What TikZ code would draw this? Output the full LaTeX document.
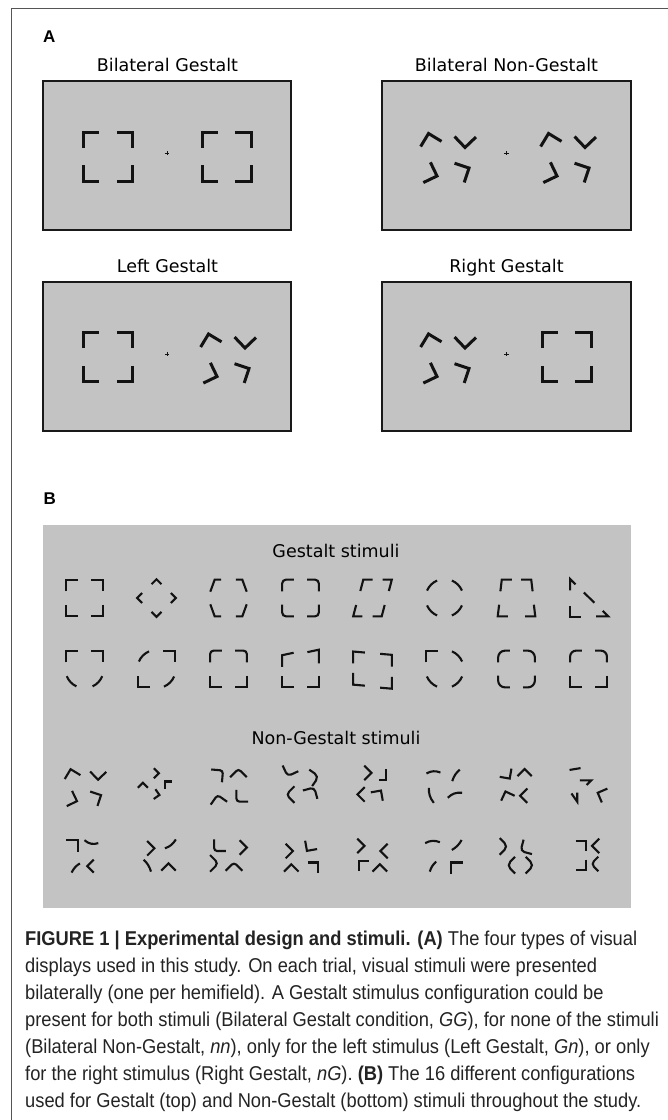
\documentclass[tikz,border=0pt]{standalone}
\usepackage{fontspec}
\setmainfont{Liberation Sans}
\newfontfamily\titlefont{DejaVu Sans}
\newfontfamily\capfont[FakeStretch=0.915]{Liberation Sans}
\definecolor{panelgray}{RGB}{195,195,195}
\definecolor{stimink}{RGB}{18,18,18}
\definecolor{framegray}{RGB}{85,85,85}
\definecolor{captext}{RGB}{35,35,35}
\def\armlen{0.64pt}
\newcommand\stimC[3]{\pgfmathsetmacro\angA{#3+135}\pgfmathsetmacro\angB{#3+225}\draw (#1,#2) ++(\angA:\armlen) -- (#1,#2) -- ++(\angB:\armlen);}
\newcommand\stimR[4]{\pgfmathsetmacro\angA{#3+135}\pgfmathsetmacro\angB{#3+225}\draw[rounded corners=#4] (#1,#2) ++(\angA:\armlen) -- (#1,#2) -- ++(\angB:\armlen);}
\newcommand\stimG[6]{\draw (#1,#2) ++(#3:#4) -- (#1,#2) -- ++(#5:#6);}
\newcommand\stimArc[3]{\draw (0,0) ++(#1:#3) arc[start angle=#1,end angle=#2,radius=#3];}
\newcommand\stimSquare{\stimC{-1}{-1}{135}\stimC{1}{-1}{45}\stimC{-1}{1}{225}\stimC{1}{1}{315}}
\newcommand\stimNonG{{\def\armlen{0.62pt}\stimC{-0.755}{-0.939}{104}\stimC{0.735}{-0.367}{268.7}\stimC{-0.408}{0.796}{340.7}\stimC{0.898}{0.469}{26.8}}}
\newcommand\atA[3]{\begin{scope}[panelAstim,shift={(#1,#2)},scale=24.5]#3\end{scope}}
\newcommand\atB[3]{\begin{scope}[panelBstim,shift={(#1,#2)},scale=18.4]#3\end{scope}}
\tikzset{
  panelAstim/.style={color=stimink,line width=3pt,line cap=butt,line join=miter},
  panelBstim/.style={color=stimink,line width=2.1pt,line cap=butt,line join=miter},
  dispbox/.style={draw=black!90,line width=2pt,fill=panelgray},
  fixcross/.style={draw=stimink,line width=0.6pt},
  titletext/.style={font={\titlefont\fontsize{17.5}{20}\selectfont},anchor=base,inner sep=0pt,text=black},
  paneltag/.style={font={\bfseries\fontsize{17}{20}\selectfont},anchor=base west,inner sep=0pt},
  capline/.style={font={\capfont\fontsize{20}{27}\selectfont},anchor=base west,inner sep=0pt,text=captext}
}
\begin{document}
\begin{tikzpicture}[x=1pt,y=-1pt]
\useasboundingbox (0,0) rectangle (668,1120);
% outer frame
\coordinate (fb) at (11,1120);
\coordinate (fc) at (11,8.5);
\coordinate (fr) at (668,8.5);
\draw[framegray,line width=1pt] (fb) -- (fc) -- (fr);
% panel A
\node[paneltag] (lA) at (43,42.5) {A};
\node[titletext] (tBG) at (167.5,71.7) {Bilateral Gestalt};
\node[titletext] (tBN) at (506.5,71.7) {Bilateral Non-Gestalt};
\node[titletext] (tLG) at (167.5,272.7) {Left Gestalt};
\node[titletext] (tRG) at (506.5,272.7) {Right Gestalt};
\draw[dispbox] (43,81) rectangle (291,230);
\draw[dispbox] (382,81) rectangle (631,230);
\draw[dispbox] (43,282) rectangle (291,431);
\draw[dispbox] (382,282) rectangle (631,431);
\draw[fixcross] (167,150.8) -- (167,155.2) (164.8,153) -- (169.2,153);
\draw[fixcross] (506.5,150.8) -- (506.5,155.2) (504.3,153) -- (508.7,153);
\draw[fixcross] (167,351.8) -- (167,356.2) (164.8,354) -- (169.2,354);
\draw[fixcross] (506.5,351.8) -- (506.5,356.2) (504.3,354) -- (508.7,354);
\atA{108}{156.5}{\stimSquare}
\atA{226.5}{156.5}{\stimSquare}
\atA{447}{156.5}{\stimNonG}
\atA{567}{156.5}{\stimNonG}
\atA{108}{357}{\stimSquare}
\atA{227}{357}{\stimNonG}
\atA{447}{357}{\stimNonG}
\atA{566.5}{357}{\stimSquare}
% panel B
\node[paneltag] (lB) at (43.5,504.5) {B};
\fill[panelgray] (43,525) rectangle (631,908);
\node[titletext] (tGS) at (336,557) {Gestalt stimuli};
\node[titletext] (tNS) at (336,744) {Non-Gestalt stimuli};
% Gestalt row 1
\atB{84.5}{598}{\stimSquare}
\atB{156.5}{598}{\def\armlen{0.38pt}\stimC{0}{-1.02}{90}\stimC{-1.05}{0}{180}\stimC{1.05}{0}{0}\stimC{0}{1.02}{270}}
\atB{228.5}{598}{\stimG{-0.75}{-1}{0}{0.35pt}{250}{0.7pt}\stimG{0.75}{-1}{180}{0.35pt}{290}{0.7pt}\stimG{-0.75}{1}{0}{0.35pt}{110}{0.7pt}\stimG{0.75}{1}{180}{0.35pt}{70}{0.7pt}}
\atB{300.5}{598}{\stimR{-1}{-1}{135}{4pt}\stimR{1}{-1}{45}{4pt}\stimR{-1}{1}{225}{4pt}\stimR{1}{1}{315}{4pt}}
\atB{372.5}{598}{\stimG{-0.5}{-1}{0}{0.5pt}{255.4}{0.64pt}\stimG{1.05}{-1}{180}{0.5pt}{255.4}{0.64pt}\stimG{-1.05}{1}{0}{0.5pt}{75.4}{0.64pt}\stimG{0.5}{1}{180}{0.5pt}{75.4}{0.64pt}}
\atB{444.5}{598}{\stimArc{23}{67}{1.03pt}\stimArc{113}{157}{1.03pt}\stimArc{203}{247}{1.03pt}\stimArc{293}{337}{1.03pt}}
\atB{516.5}{598}{\stimG{-0.8}{-1}{0}{0.55pt}{263.2}{0.64pt}\stimG{0.8}{-1}{180}{0.55pt}{276.8}{0.64pt}\stimG{-1.02}{1}{0}{0.55pt}{83.2}{0.64pt}\stimG{1.02}{1}{180}{0.55pt}{96.8}{0.64pt}}
\atB{588.5}{598}{\stimG{-1}{-1.04}{270}{0.63pt}{315}{0.42pt}\draw (-0.25,-0.3) -- (0.32,0.26);\stimG{-1}{1.04}{90}{0.6pt}{0}{0.6pt}\stimG{1.07}{1}{180}{0.65pt}{135}{0.42pt}}
% Gestalt row 2
\atB{84.5}{669}{\stimC{-1}{-1}{135}\stimC{1}{-1}{45}\stimArc{202}{245}{1.04pt}\stimArc{295}{338}{1.04pt}}
\atB{156.5}{669}{\stimArc{113}{157}{1.04pt}\stimC{1}{-1}{45}\stimC{-1}{1}{225}\stimArc{293}{337}{1.04pt}}
\atB{228.5}{669}{\stimR{-1}{-1}{135}{3.5pt}\stimR{1}{-1}{45}{3.5pt}\stimC{-1}{1}{225}\stimC{1}{1}{315}}
\atB{300.5}{669}{\stimG{-1}{-0.75}{12}{0.64pt}{270}{0.64pt}\stimG{1}{-1.05}{192}{0.64pt}{270}{0.75pt}\stimC{-1}{1}{225}\stimC{1}{1}{315}}
\atB{372.5}{669}{\stimG{-1.05}{-0.95}{355}{0.64pt}{270}{0.64pt}\stimG{1.05}{-0.77}{175}{0.64pt}{270}{0.64pt}\stimG{-1.05}{0.85}{90}{0.64pt}{355}{0.64pt}\stimG{1.05}{1.07}{90}{0.64pt}{175}{0.64pt}}
\atB{444.5}{669}{\stimC{-1}{-1}{135}\stimArc{23}{67}{1.04pt}\stimArc{203}{247}{1.04pt}\stimArc{293}{337}{1.04pt}}
\atB{516.5}{669}{\stimR{-1}{-1}{135}{7pt}\stimR{1}{-1}{45}{7pt}\stimR{-1}{1}{225}{7pt}\stimR{1}{1}{315}{7pt}}
\atB{588.5}{669}{\stimR{-1}{-1}{135}{6pt}\stimR{1}{-1}{45}{6pt}\stimC{-1}{1}{225}\stimC{1}{1}{315}}
% Non-Gestalt row 1
\atB{84.5}{786.5}{\stimNonG}
\atB{156.5}{786.5}{\def\armlen{0.38pt}\stimC{0.125}{-0.72}{0}\stimC{-0.74}{-0.2}{90}\stimC{0.46}{-0.27}{135}\stimC{0.16}{0.46}{-10}}
\atB{228.5}{786.5}{\stimR{-0.3}{-0.87}{40}{3pt}\stimR{0.54}{-0.96}{90}{3pt}\stimR{-0.6}{0.46}{100}{3pt}\stimR{0.43}{0.82}{225}{3pt}}
\atB{300.5}{786.5}{\stimR{-0.7}{-0.56}{250}{4pt}\stimR{1.0}{-0.55}{10}{5pt}\stimR{-0.78}{0.44}{180}{4pt}\stimR{0.75}{0.05}{60}{4pt}}
\atB{372.5}{786.5}{\def\armlen{0.56pt}\stimC{-0.05}{-0.74}{0}\stimG{0.73}{-0.33}{90}{0.62pt}{180}{0.35pt}\stimC{-0.82}{0.43}{180}\stimC{0.46}{0.22}{55}}
\atB{444.5}{786.5}{\draw (-0.98,-0.71) to[bend left=25] (-0.22,-0.76);\draw (0.42,-0.29) to[bend left=15] (0.83,-0.92);\draw (-0.85,0.07) to[bend right=20] (-0.58,0.89);\draw (0.18,0.61) to[bend left=25] (0.96,0.34);}
\atB{516.5}{786.5}{\def\armlen{0.55pt}\stimC{-0.37}{-0.43}{305}\stimC{0.44}{-0.95}{90}\stimC{-0.6}{0.27}{110}\stimC{0.2}{0.5}{180}}
\atB{588.5}{786.5}{\draw (-1.03,-0.9) -- (-0.43,-1.0);\stimG{0.15}{-0.33}{180}{0.62pt}{225}{0.35pt}\stimG{-0.61}{0.83}{90}{0.5pt}{125}{0.55pt}\def\armlen{0.57pt}\stimC{0.5}{0.34}{158}}
% Non-Gestalt row 2
\atB{84.5}{856}{\stimC{-0.35}{-0.88}{45}\draw (0.0,-0.86) to[bend right=30] (0.75,-0.7);\draw (-0.7,0.9) to[bend left=15] (-0.25,0.4);\def\armlen{0.5pt}\stimC{0.15}{0.55}{180}}
\atB{156.5}{856}{\def\armlen{0.56pt}\stimC{-0.11}{-0.42}{0}\draw (0.46,-0.42) to[bend right=20] (1.05,-0.9);\draw (-0.7,0.2) to[bend left=15] (-0.3,0.85);\stimC{0.65}{0.4}{90}}
\atB{228.5}{856}{\stimR{-0.78}{-0.27}{225}{3pt}{\def\armlen{0.56pt}\stimC{1.0}{-0.46}{0}}\stimR{-0.55}{0.4}{0}{4pt}\stimR{0.3}{0.35}{90}{3pt}}
\atB{300.5}{856}{\def\armlen{0.56pt}\stimC{-0.41}{-0.27}{0}\stimC{0.35}{-0.28}{235}\stimC{-0.5}{0.45}{90}\stimC{0.95}{0.35}{45}}
\atB{372.5}{856}{\def\armlen{0.56pt}\stimC{-0.43}{-0.55}{0}\stimC{0.43}{-0.27}{180}\stimC{-0.75}{0.25}{135}\stimC{0.4}{0.45}{90}}
\atB{444.5}{856}{\draw (-1.05,-0.7) to[bend left=25] (-0.25,-0.75);\draw (0.4,-0.33) to[bend right=15] (0.93,-0.87);\draw (-0.8,0.85) to[bend left=15] (-0.45,0.3);\stimC{0.35}{0.35}{135}}
\atB{516.5}{856}{\stimR{-0.46}{-0.52}{0}{5pt}\stimR{0.22}{-0.27}{210}{4pt}\stimR{-0.53}{0.5}{180}{5pt}\stimR{0.95}{0.5}{0}{5pt}}
\atB{588.5}{856}{\def\armlen{0.56pt}\stimC{-0.14}{-0.83}{45}\stimC{0.19}{-0.55}{180}\stimC{-0.14}{0.76}{315}\stimR{0.14}{0.43}{180}{4pt}}
% caption
\node[capline] (c1) at (25,945) {\textbf{FIGURE 1 | Experimental design and stimuli. (A)} The four types of visual};
\node[capline] (c2) at (25,972) {displays used in this study. On each trial, visual stimuli were presented};
\node[capline] (c3) at (25,999) {bilaterally (one per hemifield). A Gestalt stimulus configuration could be};
\node[capline] (c4) at (25,1026) {present for both stimuli (Bilateral Gestalt condition, \textit{GG}), for none of the stimuli};
\node[capline] (c5) at (25,1053) {(Bilateral Non-Gestalt, \textit{nn}), only for the left stimulus (Left Gestalt, \textit{Gn}), or only};
\node[capline] (c6) at (25,1080) {for the right stimulus (Right Gestalt, \textit{nG}). \textbf{(B)} The 16 different configurations};
\node[capline] (c7) at (25,1107) {used for Gestalt (top) and Non-Gestalt (bottom) stimuli throughout the study.};
\end{tikzpicture}
\end{document}
